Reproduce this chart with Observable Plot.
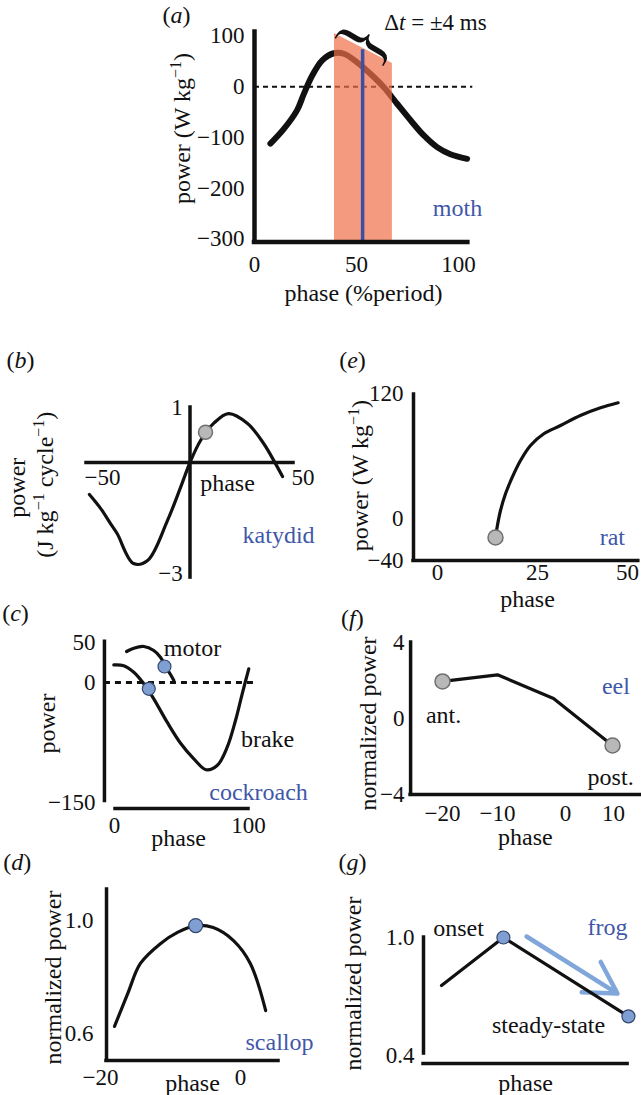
<!DOCTYPE html>
<html><head><meta charset="utf-8">
<script src="https://cdn.jsdelivr.net/npm/d3@7"></script>
<script src="https://cdn.jsdelivr.net/npm/@observablehq/plot@0.6"></script>
<style>
body{margin:0;background:#fff;}
#fig{position:relative;width:641px;height:1095px;overflow:hidden;background:#fff;}
#fig svg{position:absolute;left:0;top:0;}
</style></head><body><div id="fig"></div>
<script>
// ---------- DATA ----------
// (a) moth
const mothPhase = [7.8,14.4,20.9,24.2,28.3,33.2,38.9,43.8,50.3,56.9,63.4,70,76.5,83,89.5,96,104.2];
const mothPower = [-112,-83,-46,-14,22,52,66,65,48,25,-1,-34,-66,-96,-119,-133,-142];
const mothWindowPhase = [39.2, 67.6];
const mothWindowTop = [105, 46];
const mothStimPhase = [53];
const mothStimTop = [73];
const mothYTicks = [100, 0, -100, -200, -300];
const mothXTicks = [0, 50, 100];
// (b) katydid
const katyPhase = [-48.6,-43.2,-38.4,-35.2,-27.3,-20.5,-10.9,-4.6,0,5.1,11.4,18.6,27.8,35.5,41.3,44.7];
const katyPower = [-0.865,-1.24,-1.65,-1.92,-2.73,-2.65,-1.57,-0.68,0,0.4,0.71,0.89,0.71,0.35,-0.03,-0.38];
const katyMarkPhase = [7.5];
const katyMarkPower = [0.55];
const katyXTicks = [-50, 50];
const katyYTicks = [1, -3];
// (e) rat
const ratPhase = [14.5,14.9,15.75,17,18.7,20.75,23.25,26.75,31.4,36.9,42.5,47.4];
const ratPower = [-17.7,-8.1,7.9,23.9,39.8,55.8,70.2,81.4,89.3,98.9,106.3,111.1];
const ratMarkPhase = [14.5];
const ratMarkPower = [-18];
const ratXTicks = [0, 25, 50];
const ratYTicks = [120, 0, -40];
// (c) cockroach
const motorPhase = [9,14.4,21.9,29.3,34.3,38.1,41.8,44.3];
const motorPower = [38.75,42.9,45,40,31.6,20,10,2.5];
const brakePhase = [-0.5,6.9,14.4,21.9,29.3,39.3,49.3,59.2,68.4,76.6,84.1,90.3,95.3,100.2];
const brakePower = [22,21,12.9,-1.6,-20.4,-49.6,-75.9,-95.4,-109.1,-103.8,-80.9,-47.5,-14.1,17.1];
const roachMarkPhase = [37.3, 25.6];
const roachMarkPower = [20, -7.9];
const roachXTicks = [0, 100];
const roachYTicks = [50, 0, -150];
// (d) scallop
const scallopPhase = [-18,-16.1,-14.3,-11.4,-9,-6.4,-3.9,-1,1.4,3.6];
const scallopPower = [0.625,0.742,0.848,0.919,0.958,0.982,0.975,0.929,0.848,0.681];
const scallopMarkPhase = [-6.4];
const scallopMarkPower = [0.982];
const scallopXTicks = [-20, 0];
const scallopYTicks = [1.0, 0.6];
// (f) eel
const eelPhase = [-20,-10,-1.76,9.8];
const eelPower = [1.95,2.3,1.05,-1.42];
const eelXTicks = [-20,-10,0,10];
const eelYTicks = [4,0,-4];
// (g) frog
const frogPhase = [0.87, 3.86, 9.9];
const frogPower = [0.756, 1.0, 0.599];
const frogMarkIdx = [1, 2];
const frogArrow = {x1: 4.98, y1: 1.005, x2: 9.37, y2: 0.715};
const frogYTicks = [1.0, 0.4];

// ---------- HELPERS ----------
const W = 641, H = 1095;
const fig = document.getElementById("fig");
const BLUE = "#3f57a8";
const INK = "#111";
const SERIF = "'Liberation Serif','Times New Roman',serif";
const zip = (xs, ys) => xs.map((x, i) => ({x, y: ys[i]}));
const fmt = (d, dec) => (dec ? d.toFixed(dec) : String(d)).replace("-", "\u2212");
const T = (s, x, y, o = {}) => Plot.text([s], {x, y, text: d => d, fontSize: 24, fontFamily: SERIF, fill: INK, ...o});
const ticks = (vals, o) => Plot.text(vals, {fontSize: 23, fontFamily: SERIF, fill: INK, ...o});
const sup = s => `<tspan dy="-9" font-size="16">${s}</tspan>`;
const rich = {
  "Δt = ±4 ms": 'Δ<tspan font-style="italic">t</tspan> = ±4 ms',
  "power (W kg−1)": `power (W kg${sup("−1")}<tspan dy="9">)</tspan>`,
  "(J kg−1 cycle−1)": `(J kg${sup("−1")}<tspan dy="9"> cycle</tspan>${sup("−1")}<tspan dy="9">)</tspan>`
};
["a","b","c","d","e","f","g"].forEach(l => rich[`(${l})`] = `(<tspan font-style="italic">${l}</tspan>)`);

// piecewise (hand-drawn) axes: map data to page pixels, then an identity position scale
const piecewise = (dom, rng, size) => ({transform: d3.scaleLinear(dom, rng), domain: [0, size], range: [0, size]});

function panel(xs, ys, marks) {
  const svg = Plot.plot({
    width: W, height: H,
    x: {...xs, axis: null}, y: {...ys, axis: null},
    style: {background: "transparent", fontFamily: SERIF, overflow: "visible"},
    marks
  });
  svg.querySelectorAll("text").forEach(t => {
    const k = t.textContent;
    if (rich[k]) t.innerHTML = rich[k];
  });
  fig.appendChild(svg);
}
const axisStyle = {stroke: INK, strokeLinecap: "square"};

// ---------- (a) moth ----------
panel({domain: [0, 105], range: [254, 468.2]}, {domain: [-310, 110], range: [243.6, 30.4]}, [
  Plot.ruleY([0], {x1: 0, x2: 107, stroke: INK, strokeWidth: 2, strokeDasharray: "5,4"}),
  Plot.line(zip(mothPhase, mothPower), {x: "x", y: "y", curve: "catmull-rom", stroke: INK, strokeWidth: 6}),
  Plot.areaY(zip(mothWindowPhase, mothWindowTop), {x: "x", y1: -306, y2: "y", fill: "#f07048", fillOpacity: 0.7}),
  Plot.ruleX(zip(mothStimPhase, mothStimTop), {x: "x", y1: -306, y2: "y", stroke: "#3b4ea8", strokeWidth: 3.5}),
  Plot.ruleX([0], {y1: -306, y2: 108, strokeWidth: 4.5, ...axisStyle}),
  Plot.ruleY([-306], {x1: 0, x2: 104.6, strokeWidth: 4.5, ...axisStyle}),
  ticks(mothYTicks, {x: -4.9, y: d => d, text: d => fmt(d), textAnchor: "end"}),
  ticks(mothXTicks, {x: d => d, y: -350, text: d => fmt(d)}),
  T("{", 54.9, 83.3, {rotate: 120, fontSize: 68}),
  T("Δt = ±4 ms", 88.7, 126.6, {fontSize: 23}),
  T("(a)", -38.2, 140.4),
  T("moth", 99.5, -240, {fill: BLUE}),
  T("power (W kg−1)", -35.3, -82.3, {rotate: -90}),
  T("phase (%period)", 53.4, -407.5)
]);

// ---------- (b) katydid ----------
panel({domain: [-50, 50], range: [86, 293]}, piecewise([-3, 0, 1], [573, 462, 407], H), [
  Plot.ruleY([0], {x1: -50, x2: 50, strokeWidth: 3.5, ...axisStyle}),
  Plot.ruleX([0], {y1: -3.11, y2: 1.0, strokeWidth: 3.5, ...axisStyle}),
  Plot.line(zip(katyPhase, katyPower), {x: "x", y: "y", curve: "catmull-rom", stroke: INK, strokeWidth: 3.2}),
  Plot.dot(zip(katyMarkPhase, katyMarkPower), {x: "x", y: "y", r: 7, fill: "#b8b8b8", stroke: "#707070", strokeWidth: 1.5}),
  ticks(katyYTicks, {x: -3.5, y: d => d, text: d => fmt(d), textAnchor: "end"}),
  ticks(katyXTicks, {x: d => d, dx: -2, y: -0.4, text: d => fmt(d), textAnchor: "start"}),
  T("(b)", -81.9, 1.855),
  T("phase", 18.1, -0.57),
  T("katydid", 42.8, -1.97, {fill: BLUE}),
  T("power", -83.3, -0.68, {rotate: -90}),
  T("(J kg−1 cycle−1)", -69.8, -0.6, {rotate: -90})
]);

// ---------- (e) rat ----------
panel(piecewise([0, 25, 50], [437, 537, 627], W), {domain: [-40, 120], range: [560, 393]}, [
  Plot.ruleX([-6], {y1: -40, y2: 119, strokeWidth: 3.5, ...axisStyle}),
  Plot.ruleY([-40], {x1: -6, x2: 53, strokeWidth: 3.5, ...axisStyle}),
  Plot.line(zip(ratPhase, ratPower), {x: "x", y: "y", curve: "catmull-rom", stroke: INK, strokeWidth: 3.2}),
  Plot.dot(zip(ratMarkPhase, ratMarkPower), {x: "x", y: "y", r: 7.5, fill: "#b8b8b8", stroke: "#707070", strokeWidth: 1.5}),
  ticks(ratYTicks, {x: -8.5, y: d => d, text: d => fmt(d), textAnchor: "end"}),
  ticks(ratXTicks, {x: d => d, y: -52, text: d => fmt(d)}),
  T("(e)", -21.25, 151.6),
  T("phase", 22.5, -77),
  T("rat", 45.8, -18, {fill: BLUE}),
  T("power (W kg−1)", -19.25, 41.4, {rotate: -90})
]);

// ---------- (c) cockroach ----------
panel({domain: [0, 100], range: [114, 248]}, {domain: [-150, 50], range: [802, 642]}, [
  Plot.ruleX([-7.5], {y1: -148, y2: 51, strokeWidth: 3.5, ...axisStyle}),
  Plot.ruleY([-157.5], {x1: 0.75, x2: 100, strokeWidth: 3.5, ...axisStyle}),
  Plot.ruleY([0], {x1: -7.5, x2: 106.7, stroke: INK, strokeWidth: 2.8, strokeDasharray: "6,5"}),
  Plot.line(zip(motorPhase, motorPower), {x: "x", y: "y", curve: "catmull-rom", stroke: INK, strokeWidth: 3.2}),
  Plot.line(zip(brakePhase, brakePower), {x: "x", y: "y", curve: "catmull-rom", stroke: INK, strokeWidth: 3.2}),
  Plot.dot(zip(roachMarkPhase, roachMarkPower), {x: "x", y: "y", r: 6.5, fill: "#7f9fd3", stroke: "#34466e", strokeWidth: 1.2}),
  ticks(roachYTicks, {x: -14.2, y: d => d, text: d => fmt(d), textAnchor: "end"}),
  ticks(roachXTicks, {x: d => d, y: -178.75, text: d => fmt(d)}),
  T("(c)", -73.9, 86.25),
  T("phase", 47.8, -194.5),
  T("power", -50, -51.25, {rotate: -90}),
  T("motor", 58.2, 42.5),
  T("brake", 114.2, -71.25),
  T("cockroach", 107.5, -137.5, {fill: BLUE})
]);

// ---------- (d) scallop ----------
panel({domain: [-20, 0], range: [100, 240]}, {domain: [0.6, 1.0], range: [1033, 920]}, [
  Plot.ruleX([-19.14], {y1: 0.504, y2: 1.11, strokeWidth: 3.5, ...axisStyle}),
  Plot.ruleY([0.504], {x1: -19.14, x2: 5.43, strokeWidth: 3.5, ...axisStyle}),
  Plot.line(zip(scallopPhase, scallopPower), {x: "x", y: "y", curve: "catmull-rom", stroke: INK, strokeWidth: 3.2}),
  Plot.dot(zip(scallopMarkPhase, scallopMarkPower), {x: "x", y: "y", r: 7, fill: "#7f9fd3", stroke: "#34466e", strokeWidth: 1.2}),
  ticks(scallopYTicks, {x: -21, y: d => d, text: d => fmt(d, 1), textAnchor: "end"}),
  ticks(scallopXTicks, {x: d => d, y: 0.444, text: d => fmt(d)}),
  T("(d)", -31.9, 1.205),
  T("phase", -6.86, 0.423),
  T("normalized power", -26.7, 0.798, {rotate: -90}),
  T("scallop", 5.57, 0.568, {fill: BLUE})
]);

// ---------- (f) eel ----------
panel(piecewise([-20, -10, 0, 10], [442, 497, 565, 613], W), {domain: [-4, 4], range: [794, 642]}, [
  Plot.ruleX([-25.8], {y1: -4, y2: 4, strokeWidth: 3.5, ...axisStyle}),
  Plot.ruleY([-4], {x1: -25.8, x2: 16, strokeWidth: 3.5, ...axisStyle}),
  Plot.line(zip(eelPhase, eelPower), {x: "x", y: "y", stroke: INK, strokeWidth: 3.2}),
  Plot.dot(zip([eelPhase[0], eelPhase[3]], [eelPower[0], eelPower[3]]), {x: "x", y: "y", r: 7.5, fill: "#b8b8b8", stroke: "#707070", strokeWidth: 1.5}),
  ticks(eelYTicks, {x: -26.9, y: d => d, text: d => fmt(d), textAnchor: "end"}),
  ticks(eelXTicks, {x: d => d, y: -5.0, text: d => fmt(d)}),
  T("(f)", -36.4, 5.26),
  T("phase", -5.9, -6.25),
  T("normalized power", -33.45, -0.26, {rotate: -90}),
  T("ant.", -19.8, 0.16),
  T("post.", 9.4, -3.1),
  T("eel", 10.5, 1.68, {fill: BLUE})
]);

// ---------- (g) frog ----------
panel({domain: [0, 10], range: [423, 630]}, {domain: [0.4, 1.0], range: [1055, 937]}, [
  Plot.ruleX([0], {y1: 0.41, y2: 1.0, strokeWidth: 3.5, ...axisStyle}),
  Plot.ruleY([0.359], {x1: 0, x2: 9.86, strokeWidth: 3.5, ...axisStyle}),
  Plot.arrow([frogArrow], {x1: "x1", y1: "y1", x2: "x2", y2: "y2", stroke: "#80a6da", strokeWidth: 4.5, headLength: 16}),
  Plot.line(zip(frogPhase, frogPower), {x: "x", y: "y", stroke: INK, strokeWidth: 3.2}),
  Plot.dot(frogMarkIdx.map(i => ({x: frogPhase[i], y: frogPower[i]})), {x: "x", y: "y", r: 6.5, fill: "#7f9fd3", stroke: "#34466e", strokeWidth: 1.2}),
  ticks(frogYTicks, {x: -0.43, y: d => d, text: d => fmt(d, 1), textAnchor: "end"}),
  T("(g)", -3.43, 1.381),
  T("phase", 4.93, 0.258),
  T("normalized power", -3.38, 0.766, {rotate: -90}),
  T("onset", 1.69, 1.046),
  T("steady-state", 6.04, 0.553),
  T("frog", 8.89, 1.051, {fill: BLUE})
]);
</script></body></html>
